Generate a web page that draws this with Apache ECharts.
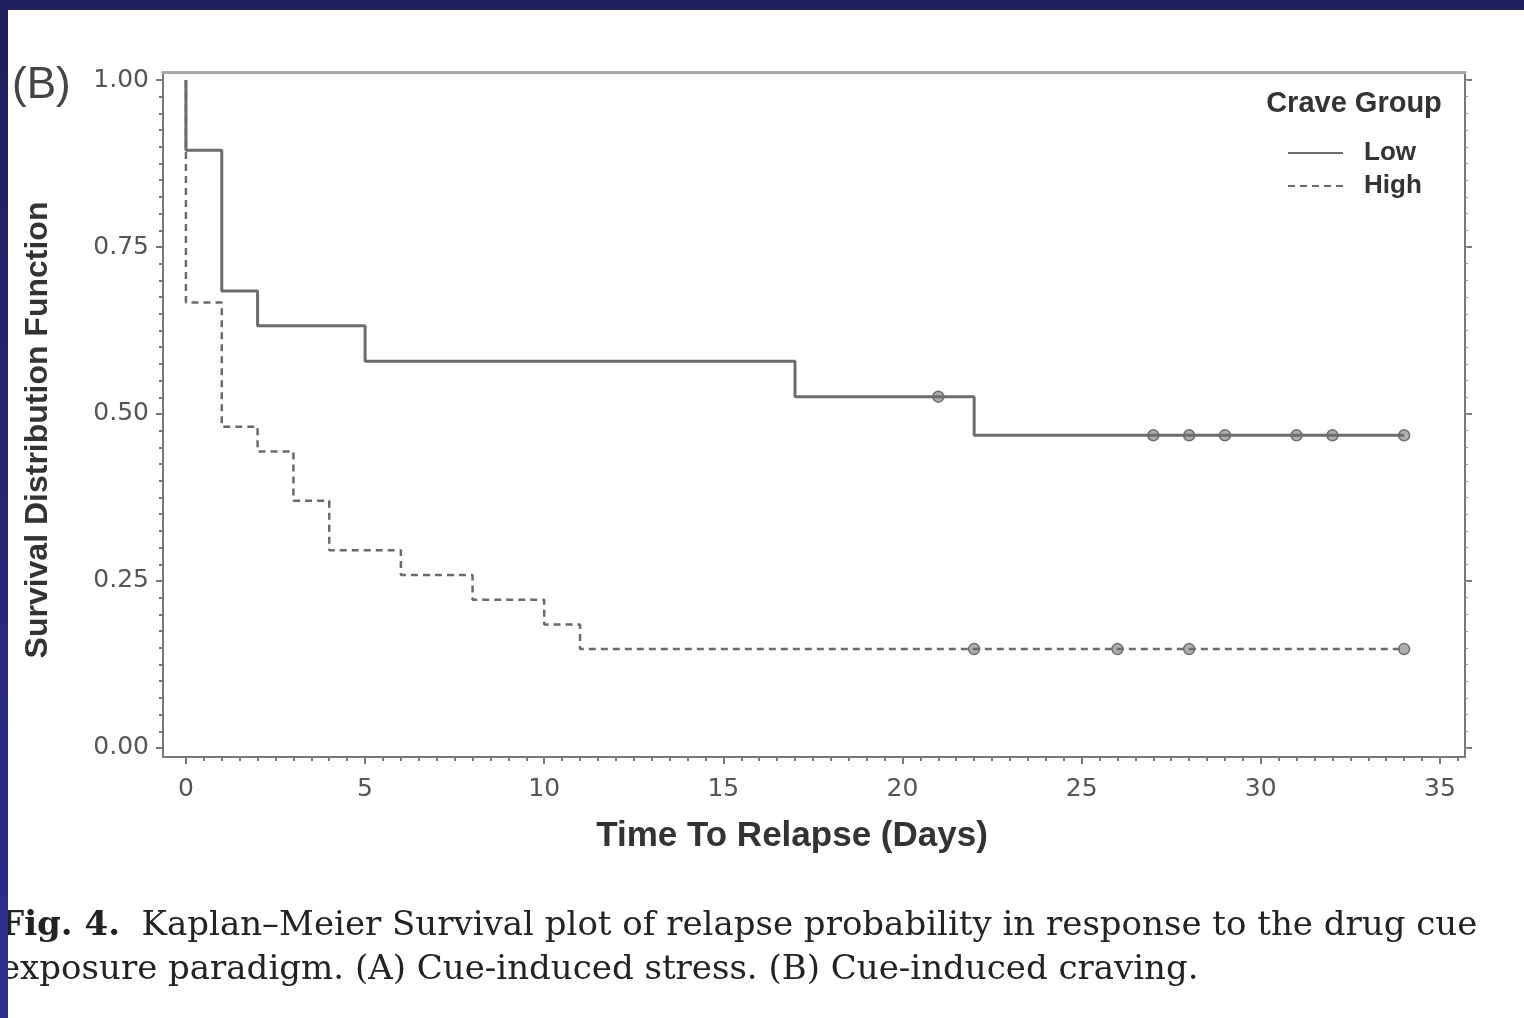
<!DOCTYPE html>
<html>
<head>
    <meta charset="utf-8">
    <title>Kaplan-Meier</title>
    <script src="https://cdn.jsdelivr.net/npm/echarts@6/dist/echarts.min.js"></script>
    <style type="text/css">
        html, body { height: 100%; margin: 0; padding: 0; background: #fff; }
        #main { width: 1524px; height: 1018px; }
    </style>
</head>
<body>
<div id="main"></div>
<script type="text/javascript">
    // Low crave group: step times and survival estimates
    var lowTimes = [0, 0, 1, 2, 5, 17, 22, 34];
    var lowSurv = [1, 0.895, 0.684, 0.632, 0.579, 0.526, 0.468, 0.468];
    var lowCensorTimes = [21, 27, 28, 29, 31, 32, 34];
    var lowCensorSurv = [0.526, 0.468, 0.468, 0.468, 0.468, 0.468, 0.468];

    // High crave group
    var highTimes = [0, 0, 1, 2, 3, 4, 6, 8, 10, 11, 34];
    var highSurv = [1, 0.667, 0.481, 0.444, 0.370, 0.296, 0.259, 0.222, 0.185, 0.148, 0.148];
    var highCensorTimes = [22, 26, 28, 34];
    var highCensorSurv = [0.148, 0.148, 0.148, 0.148];

    var xTicks = [0, 5, 10, 15, 20, 25, 30, 35];
    var yTicks = [0, 0.25, 0.5, 0.75, 1];

    var xMin = -0.64, xMax = 35.7;
    var yMin = -0.0135, yMax = 1.012;

    var xMinor = [];
    for (var i = 0; i <= 71; i++) xMinor.push(i * 0.5);
    var yMinor = [];
    for (var j = 0; j <= 40; j++) yMinor.push(+(j * 0.025).toFixed(3));

    function zip(a, b) {
        var res = [];
        for (var k = 0; k < a.length; k++) res.push([a[k], b[k]]);
        return res;
    }

    var axisGrey = '#777';
    var lineGrey = '#6b6b6b';
    var myChart = echarts.init(document.getElementById('main'));

    var option = {
        backgroundColor: '#fff',
        animation: false,
        grid: { left: 163, top: 72, right: 59, bottom: 261 },
        legend: {
            data: ['Low', 'High'],
            orient: 'vertical',
            left: 1282,
            top: 135,
            itemWidth: 55,
            itemHeight: 20,
            itemGap: 7,
            itemStyle: { opacity: 0 },
            textStyle: {
                fontFamily: 'Liberation Sans',
                fontWeight: 'bold',
                fontSize: 26,
                color: '#333',
                padding: [0, 0, 0, 16]
            }
        },
        xAxis: [
            {
                type: 'value', min: xMin, max: xMax, position: 'bottom',
                axisLine: { onZero: false, lineStyle: { color: axisGrey, width: 2 } },
                axisTick: { customValues: xTicks, length: 7, lineStyle: { color: axisGrey, width: 2 } },
                axisLabel: {
                    customValues: xTicks, margin: 20, fontSize: 25,
                    color: '#555', fontFamily: 'DejaVu Sans'
                },
                splitLine: { show: false }
            },
            {
                type: 'value', min: xMin, max: xMax, position: 'bottom',
                axisLine: { show: false, onZero: false },
                axisTick: { customValues: xMinor, length: 4, lineStyle: { color: axisGrey, width: 2 } },
                axisLabel: { show: false },
                splitLine: { show: false }
            },
            {
                type: 'value', min: xMin, max: xMax, position: 'top',
                axisLine: { onZero: false, lineStyle: { color: '#aaa', width: 3 } },
                axisTick: { show: false },
                axisLabel: { show: false },
                splitLine: { show: false }
            }
        ],
        yAxis: [
            {
                type: 'value', min: yMin, max: yMax, position: 'left',
                axisLine: { show: true, onZero: false, lineStyle: { color: axisGrey, width: 2 } },
                axisTick: { show: true, customValues: yTicks, length: 7, lineStyle: { color: axisGrey, width: 2 } },
                axisLabel: {
                    customValues: yTicks, margin: 14, fontSize: 25,
                    color: '#555', fontFamily: 'DejaVu Sans',
                    formatter: function (v) { return v.toFixed(2); }
                },
                splitLine: { show: false }
            },
            {
                type: 'value', min: yMin, max: yMax, position: 'left',
                axisLine: { show: false, onZero: false },
                axisTick: { show: true, customValues: yMinor, length: 4, lineStyle: { color: axisGrey, width: 2 } },
                axisLabel: { show: false },
                splitLine: { show: false }
            },
            {
                type: 'value', min: yMin, max: yMax, position: 'right',
                axisLine: { show: true, onZero: false, lineStyle: { color: axisGrey, width: 2 } },
                axisTick: { show: true, customValues: yTicks, length: 7, lineStyle: { color: axisGrey, width: 2 } },
                axisLabel: { show: false },
                splitLine: { show: false }
            },
            {
                type: 'value', min: yMin, max: yMax, position: 'right',
                axisLine: { show: false, onZero: false },
                axisTick: { show: true, customValues: yMinor, length: 3, lineStyle: { color: '#999', width: 1 } },
                axisLabel: { show: false },
                splitLine: { show: false }
            }
        ],
        series: [
            {
                name: 'Low',
                type: 'line',
                step: 'end',
                symbol: 'none',
                data: zip(lowTimes, lowSurv),
                itemStyle: { color: lineGrey },
                lineStyle: { color: lineGrey, width: 3 }
            },
            {
                name: 'High',
                type: 'line',
                step: 'end',
                symbol: 'none',
                data: zip(highTimes, highSurv),
                itemStyle: { color: lineGrey },
                lineStyle: { color: lineGrey, width: 2.5, type: [7, 5] }
            },
            {
                name: 'Low censored',
                type: 'scatter',
                symbol: 'circle',
                symbolSize: 11,
                data: zip(lowCensorTimes, lowCensorSurv),
                itemStyle: { color: '#9a9a9a', borderColor: '#555', borderWidth: 1.5 }
            },
            {
                name: 'High censored',
                type: 'scatter',
                symbol: 'circle',
                symbolSize: 11,
                data: zip(highCensorTimes, highCensorSurv),
                itemStyle: { color: '#9a9a9a', borderColor: '#555', borderWidth: 1.5 }
            }
        ],
        graphic: [
            {
                type: 'text', x: 12, y: 86,
                style: {
                    text: '(B)', fontSize: 44, fontFamily: 'Liberation Sans', fill: '#444',
                    verticalAlign: 'middle'
                }
            },
            {
                type: 'text', x: 1354, y: 104,
                style: {
                    text: 'Crave Group', fontSize: 29, fontWeight: 'bold', fontFamily: 'Liberation Sans',
                    fill: '#333', align: 'center', verticalAlign: 'middle'
                }
            },
            {
                type: 'text', x: 38, y: 430, rotation: Math.PI / 2,
                style: {
                    text: 'Survival Distribution Function', fontSize: 32, fontWeight: 'bold',
                    fontFamily: 'Liberation Sans', fill: '#333', align: 'center', verticalAlign: 'middle'
                }
            },
            {
                type: 'text', x: 792, y: 836,
                style: {
                    text: 'Time To Relapse (Days)', fontSize: 35, fontWeight: 'bold',
                    fontFamily: 'Liberation Sans', fill: '#333', align: 'center', verticalAlign: 'middle'
                }
            },
            {
                type: 'text', x: 0, y: 926,
                style: {
                    text: '{b|Fig. 4.}  Kaplan\u2013Meier Survival plot of relapse probability in response to the drug cue',
                    fontSize: 34, fontFamily: 'DejaVu Serif', fill: '#222', verticalAlign: 'middle',
                    rich: { b: { fontWeight: 'bold', fontSize: 34, fontFamily: 'DejaVu Serif', fill: '#222' } }
                }
            },
            {
                type: 'text', x: 0, y: 970,
                style: {
                    text: 'exposure paradigm. (A) Cue-induced stress. (B) Cue-induced craving.',
                    fontSize: 34, fontFamily: 'DejaVu Serif', fill: '#222', verticalAlign: 'middle'
                }
            },
            {
                type: 'rect', z: 100,
                shape: { x: 0, y: 0, width: 1524, height: 10 },
                style: { fill: '#1f1f5e' }
            },
            {
                type: 'rect', z: 100,
                shape: { x: 0, y: 0, width: 8, height: 1018 },
                style: {
                    fill: new echarts.graphic.LinearGradient(0, 0, 0, 1, [
                        { offset: 0, color: '#1f1f5e' },
                        { offset: 1, color: '#2e2d8e' }
                    ])
                }
            }
        ]
    };

    myChart.setOption(option);
</script>
</body>
</html>
